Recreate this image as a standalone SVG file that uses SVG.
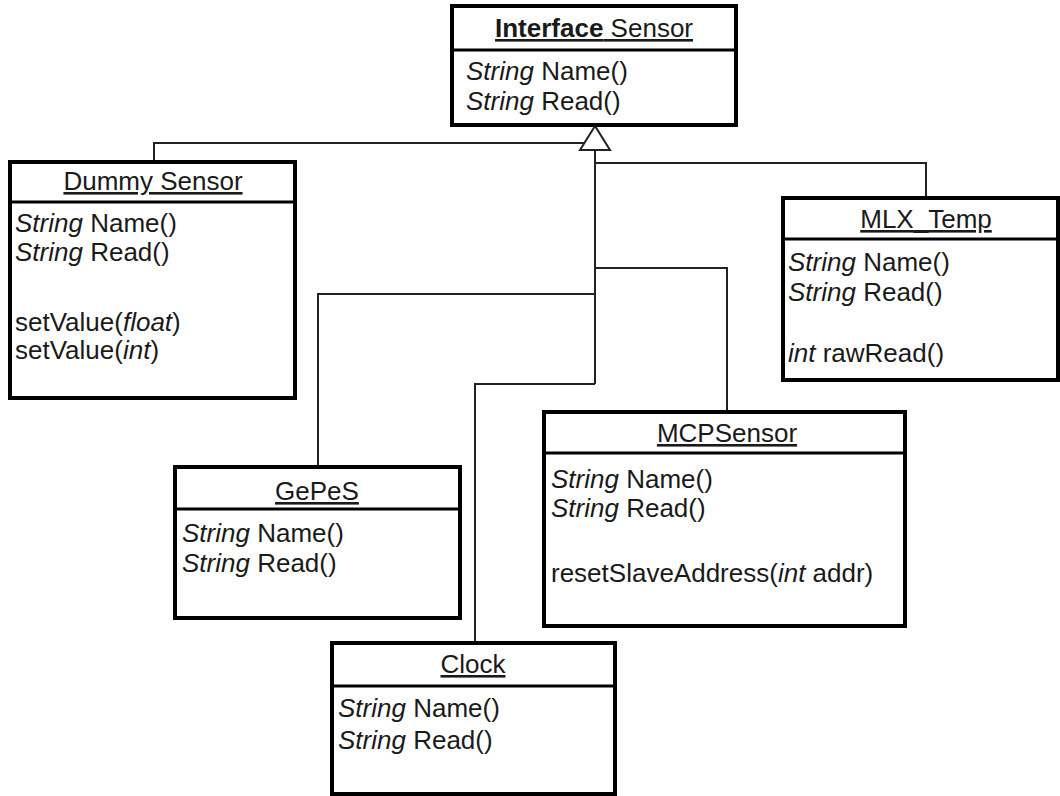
<svg xmlns="http://www.w3.org/2000/svg" width="1060" height="796" viewBox="0 0 1060 796">
<style>
.box{fill:#fff;stroke:#000;stroke-width:4}
.div{stroke:#000;stroke-width:3}
.t{font-family:"Liberation Sans",Arial,sans-serif;font-size:26px;fill:#1a1a1a}
.title{text-anchor:middle;text-decoration:underline}
.i{font-style:italic}
.b{font-weight:bold}
.conn{fill:none;stroke:#222;stroke-width:2}
</style>
<rect width="1060" height="796" fill="#fff"/>
<g id="connectors">
<path class="conn" d="M584,143 H154 V162"/>
<path class="conn" d="M595,150 V384"/>
<path class="conn" d="M595,163 H926 V198"/>
<path class="conn" d="M595,268 H727 V412"/>
<path class="conn" d="M595,294 H318 V467"/>
<path class="conn" d="M595,384 H475 V643"/>
<polygon points="595,126 580,150 610,150" fill="#fff" stroke="#222" stroke-width="2"/>
</g>
<g id="interface-sensor">
<rect class="box" x="452" y="6" width="284" height="119"/>
<line class="div" x1="452" y1="50" x2="736" y2="50"/>
<text class="t title" x="594" y="37"><tspan class="b">Interface</tspan> Sensor</text>
<text class="t" x="466" y="80"><tspan class="i">String</tspan> Name()</text>
<text class="t" x="466" y="110"><tspan class="i">String</tspan> Read()</text>
</g>
<g id="dummy-sensor">
<rect class="box" x="10" y="162" width="285" height="236"/>
<line class="div" x1="10" y1="202" x2="295" y2="202"/>
<text class="t title" x="153" y="190">Dummy Sensor</text>
<text class="t" x="15" y="232"><tspan class="i">String</tspan> Name()</text>
<text class="t" x="15" y="261"><tspan class="i">String</tspan> Read()</text>
<text class="t" x="15" y="331">setValue(<tspan class="i">float</tspan>)</text>
<text class="t" x="15" y="359">setValue(<tspan class="i">int</tspan>)</text>
</g>
<g id="mlx-temp">
<rect class="box" x="783" y="198" width="275" height="182"/>
<line class="div" x1="783" y1="239" x2="1058" y2="239"/>
<text class="t title" x="926" y="228">MLX_Temp</text>
<text class="t" x="788" y="271"><tspan class="i">String</tspan> Name()</text>
<text class="t" x="788" y="301"><tspan class="i">String</tspan> Read()</text>
<text class="t" x="788" y="362"><tspan class="i">int</tspan> rawRead()</text>
</g>
<g id="mcp-sensor">
<rect class="box" x="544" y="412" width="361" height="214"/>
<line class="div" x1="544" y1="453" x2="905" y2="453"/>
<text class="t title" x="727" y="442">MCPSensor</text>
<text class="t" x="551" y="488"><tspan class="i">String</tspan> Name()</text>
<text class="t" x="551" y="517"><tspan class="i">String</tspan> Read()</text>
<text class="t" x="551" y="582">resetSlaveAddress(<tspan class="i">int</tspan> addr)</text>
</g>
<g id="gepes">
<rect class="box" x="175" y="467" width="285" height="151"/>
<line class="div" x1="175" y1="509" x2="460" y2="509"/>
<text class="t title" x="317" y="500">GePeS</text>
<text class="t" x="182" y="542"><tspan class="i">String</tspan> Name()</text>
<text class="t" x="182" y="572"><tspan class="i">String</tspan> Read()</text>
</g>
<g id="clock">
<rect class="box" x="332" y="643" width="283" height="151"/>
<line class="div" x1="332" y1="686" x2="615" y2="686"/>
<text class="t title" x="473" y="673">Clock</text>
<text class="t" x="338" y="717"><tspan class="i">String</tspan> Name()</text>
<text class="t" x="338" y="749"><tspan class="i">String</tspan> Read()</text>
</g>
</svg>
